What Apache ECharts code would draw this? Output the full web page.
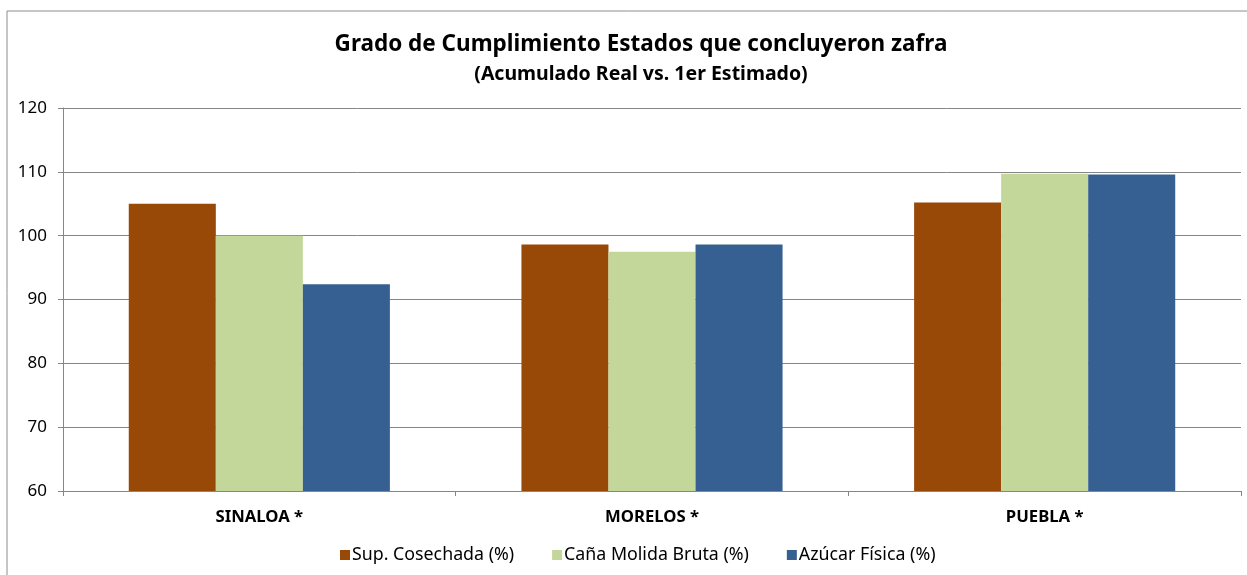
<!DOCTYPE html>
<html><head><meta charset="utf-8">
<script src="https://cdn.jsdelivr.net/npm/echarts@6/dist/echarts.min.js"></script>
<style>html,body{margin:0;padding:0;background:#fff}#c{width:1247px;height:575px}</style>
</head><body><div id="c"></div>
<script>
const categories = ['SINALOA *', 'MORELOS *', 'PUEBLA *'];
const supCosechada = [105.0, 98.6, 105.2];
const canaMolida = [100.0, 97.5, 109.7];
const azucarFisica = [92.4, 98.6, 109.6];
const seriesNames = ['Sup. Cosechada (%)', 'Caña Molida Bruta (%)', 'Azúcar Física (%)'];
const colors = ['#984807', '#c4d79b', '#366092'];
const FONT = '"Noto Sans", sans-serif';

const chart = echarts.init(document.getElementById('c'), null, {renderer: 'canvas'});
const mk = (name, data, i) => ({
  name, type: 'bar', data, barGap: '0%', barCategoryGap: '33.5%',
  itemStyle: {color: colors[i]}, emphasis: {disabled: true}
});
chart.setOption({
  animation: false,
  textStyle: {fontFamily: FONT},
  graphic: [{type: 'rect', shape: {x: 7, y: 11, width: 1250, height: 580},
    style: {fill: 'none', stroke: '#8c8c8c', lineWidth: 1}}],
  title: {
    text: 'Grado de Cumplimiento Estados que concluyeron zafra',
    subtext: '(Acumulado Real vs. 1er Estimado)',
    left: 636, textAlign: 'center', top: 28, itemGap: 8,
    textStyle: {fontFamily: FONT, fontSize: 22.5, fontWeight: 'bold', color: '#000'},
    subtextStyle: {fontFamily: FONT, fontSize: 19.5, fontWeight: 'bold', color: '#000'}
  },
  legend: {
    bottom: 6, left: 335, itemWidth: 10, itemHeight: 10, itemGap: 38,
    icon: 'rect',
    textStyle: {fontFamily: FONT, fontSize: 17.8, color: '#000', padding: [0, 0, 0, -3]},
    data: seriesNames
  },
  grid: {left: 63, right: 6, top: 108, bottom: 84, containLabel: false},
  xAxis: {
    type: 'category', data: categories,
    axisLine: {lineStyle: {color: '#868686'}},
    axisTick: {show: true, length: 5, lineStyle: {color: '#868686'}},
    axisLabel: {fontFamily: FONT, fontSize: 16.7, fontWeight: 'bold', color: '#000', margin: 18}
  },
  yAxis: {
    type: 'value', min: 60, max: 120, interval: 10,
    axisLine: {show: true, lineStyle: {color: '#868686'}},
    axisTick: {show: true, length: 5, lineStyle: {color: '#868686'}},
    splitLine: {lineStyle: {color: '#868686'}},
    axisLabel: {fontFamily: FONT, fontSize: 17, color: '#000', margin: 16}
  },
  series: [mk(seriesNames[0], supCosechada, 0), mk(seriesNames[1], canaMolida, 1), mk(seriesNames[2], azucarFisica, 2)]
});
</script></body></html>
